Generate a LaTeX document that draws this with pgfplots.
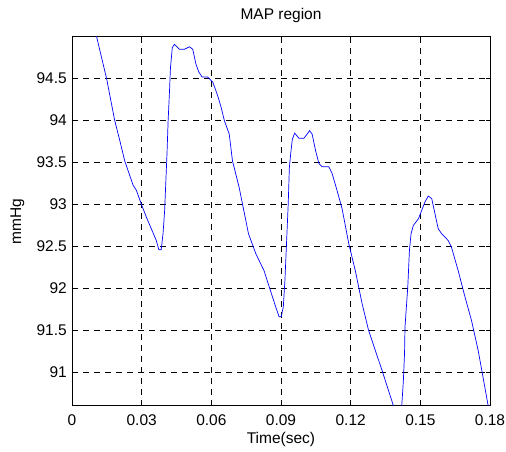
\documentclass[border=0pt]{standalone}
\usepackage{pgfplots}
\pgfplotsset{compat=1.18}
\usepackage{fontspec}
\setmainfont{Liberation Sans}
\begin{document}
\begin{tikzpicture}[x=1pt,y=1pt]
\begin{axis}[scale only axis, width=418pt, height=369pt,
  xmin=0, xmax=0.18, ymin=90.6, ymax=95,
  xtick={0,0.03,0.06,0.09,0.12,0.15,0.18},
  xticklabels={0,0.03,0.06,0.09,0.12,0.15,0.18},
  ytick={91,91.5,92,92.5,93,93.5,94,94.5},
  yticklabels={91,91.5,92,92.5,93,93.5,94,94.5},
  tick align=inside, major tick length=4pt, tick style={black, line width=0.5pt},
  xmajorgrids, ymajorgrids,
  grid style={black, line width=0.5pt, dash pattern=on 6pt off 5pt},
  axis line style={black, line width=0.8pt},
  tick label style={font=\fontsize{15.5}{18}\selectfont},
  xticklabel style={anchor=base, yshift=-19.5pt, inner sep=0pt},
  yticklabel style={anchor=east, xshift=-5pt, inner sep=0pt},
  label style={font=\fontsize{15.5}{18}\selectfont},
  title style={font=\fontsize{15.5}{18}\selectfont, at={(axis description cs:0.5,1)}, anchor=base, yshift=11pt, inner sep=0pt},
  title={MAP region},
  xlabel={Time(sec)}, ylabel={mmHg},
  xlabel style={at={(axis description cs:0.5,0)}, anchor=base, yshift=-38pt, inner sep=0pt},
  ylabel style={at={(axis description cs:0,0.5)}, anchor=center, yshift=54.5pt, inner sep=0pt},
  scaled x ticks=false, clip=true]
\coordinate (bl) at (rel axis cs:0,0);
\addplot[color=blue, line width=0.7pt] coordinates {
(0.0090,95.15) (0.0106,95.0) (0.0149,94.5) (0.0184,94.0) (0.0206,93.76) (0.0227,93.52)
(0.0263,93.23) (0.0277,93.17) (0.0299,93.0) (0.0320,92.85) (0.0363,92.57) (0.0374,92.46)
(0.0384,92.46) (0.0392,92.65) (0.0399,92.93) (0.0403,93.2) (0.0409,93.6) (0.0414,94.0)
(0.0420,94.36) (0.0424,94.63) (0.0432,94.87) (0.0441,94.91) (0.0463,94.85) (0.0484,94.85)
(0.0506,94.88) (0.0520,94.85) (0.0534,94.67) (0.0546,94.58) (0.0560,94.52) (0.0584,94.52)
(0.0606,94.46) (0.0627,94.30) (0.0642,94.16) (0.0656,94.0) (0.0677,93.84) (0.0691,93.52)
(0.0720,93.2) (0.0760,92.65) (0.0792,92.41) (0.0827,92.21) (0.0849,92.02) (0.0877,91.78)
(0.0892,91.66) (0.0901,91.66) (0.0910,91.78) (0.0917,92.1) (0.0923,92.49) (0.0931,93.0)
(0.0936,93.44) (0.0943,93.64) (0.0949,93.78) (0.0959,93.85) (0.0977,93.79) (0.0999,93.79)
(0.1013,93.84) (0.1023,93.88) (0.1034,93.84) (0.1049,93.64) (0.1063,93.49) (0.1077,93.45)
(0.1106,93.45) (0.1120,93.37) (0.1141,93.17) (0.1163,92.95) (0.1192,92.53) (0.1220,92.21)
(0.1249,91.82) (0.1277,91.5) (0.1306,91.26) (0.1334,91.03) (0.1384,90.6) (0.1400,90.45)
(0.1415,90.45) (0.1420,90.6) (0.1427,90.9) (0.1432,91.23) (0.1434,91.54) (0.1446,92.02)
(0.1453,92.45) (0.1460,92.65) (0.1470,92.75) (0.1492,92.83) (0.1506,92.93) (0.1520,93.03)
(0.1534,93.10) (0.1549,93.07) (0.1563,92.89) (0.1577,92.71) (0.1592,92.65) (0.1620,92.57)
(0.1634,92.49) (0.1663,92.21) (0.1692,91.9) (0.1720,91.62) (0.1749,91.26) (0.1770,90.94)
(0.1792,90.6) (0.1800,90.5)};
\end{axis}
\pgfresetboundingbox
\path[use as bounding box] (bl) ++(-72pt,-45.3pt) rectangle ++(506pt,451pt);
\end{tikzpicture}
\end{document}
